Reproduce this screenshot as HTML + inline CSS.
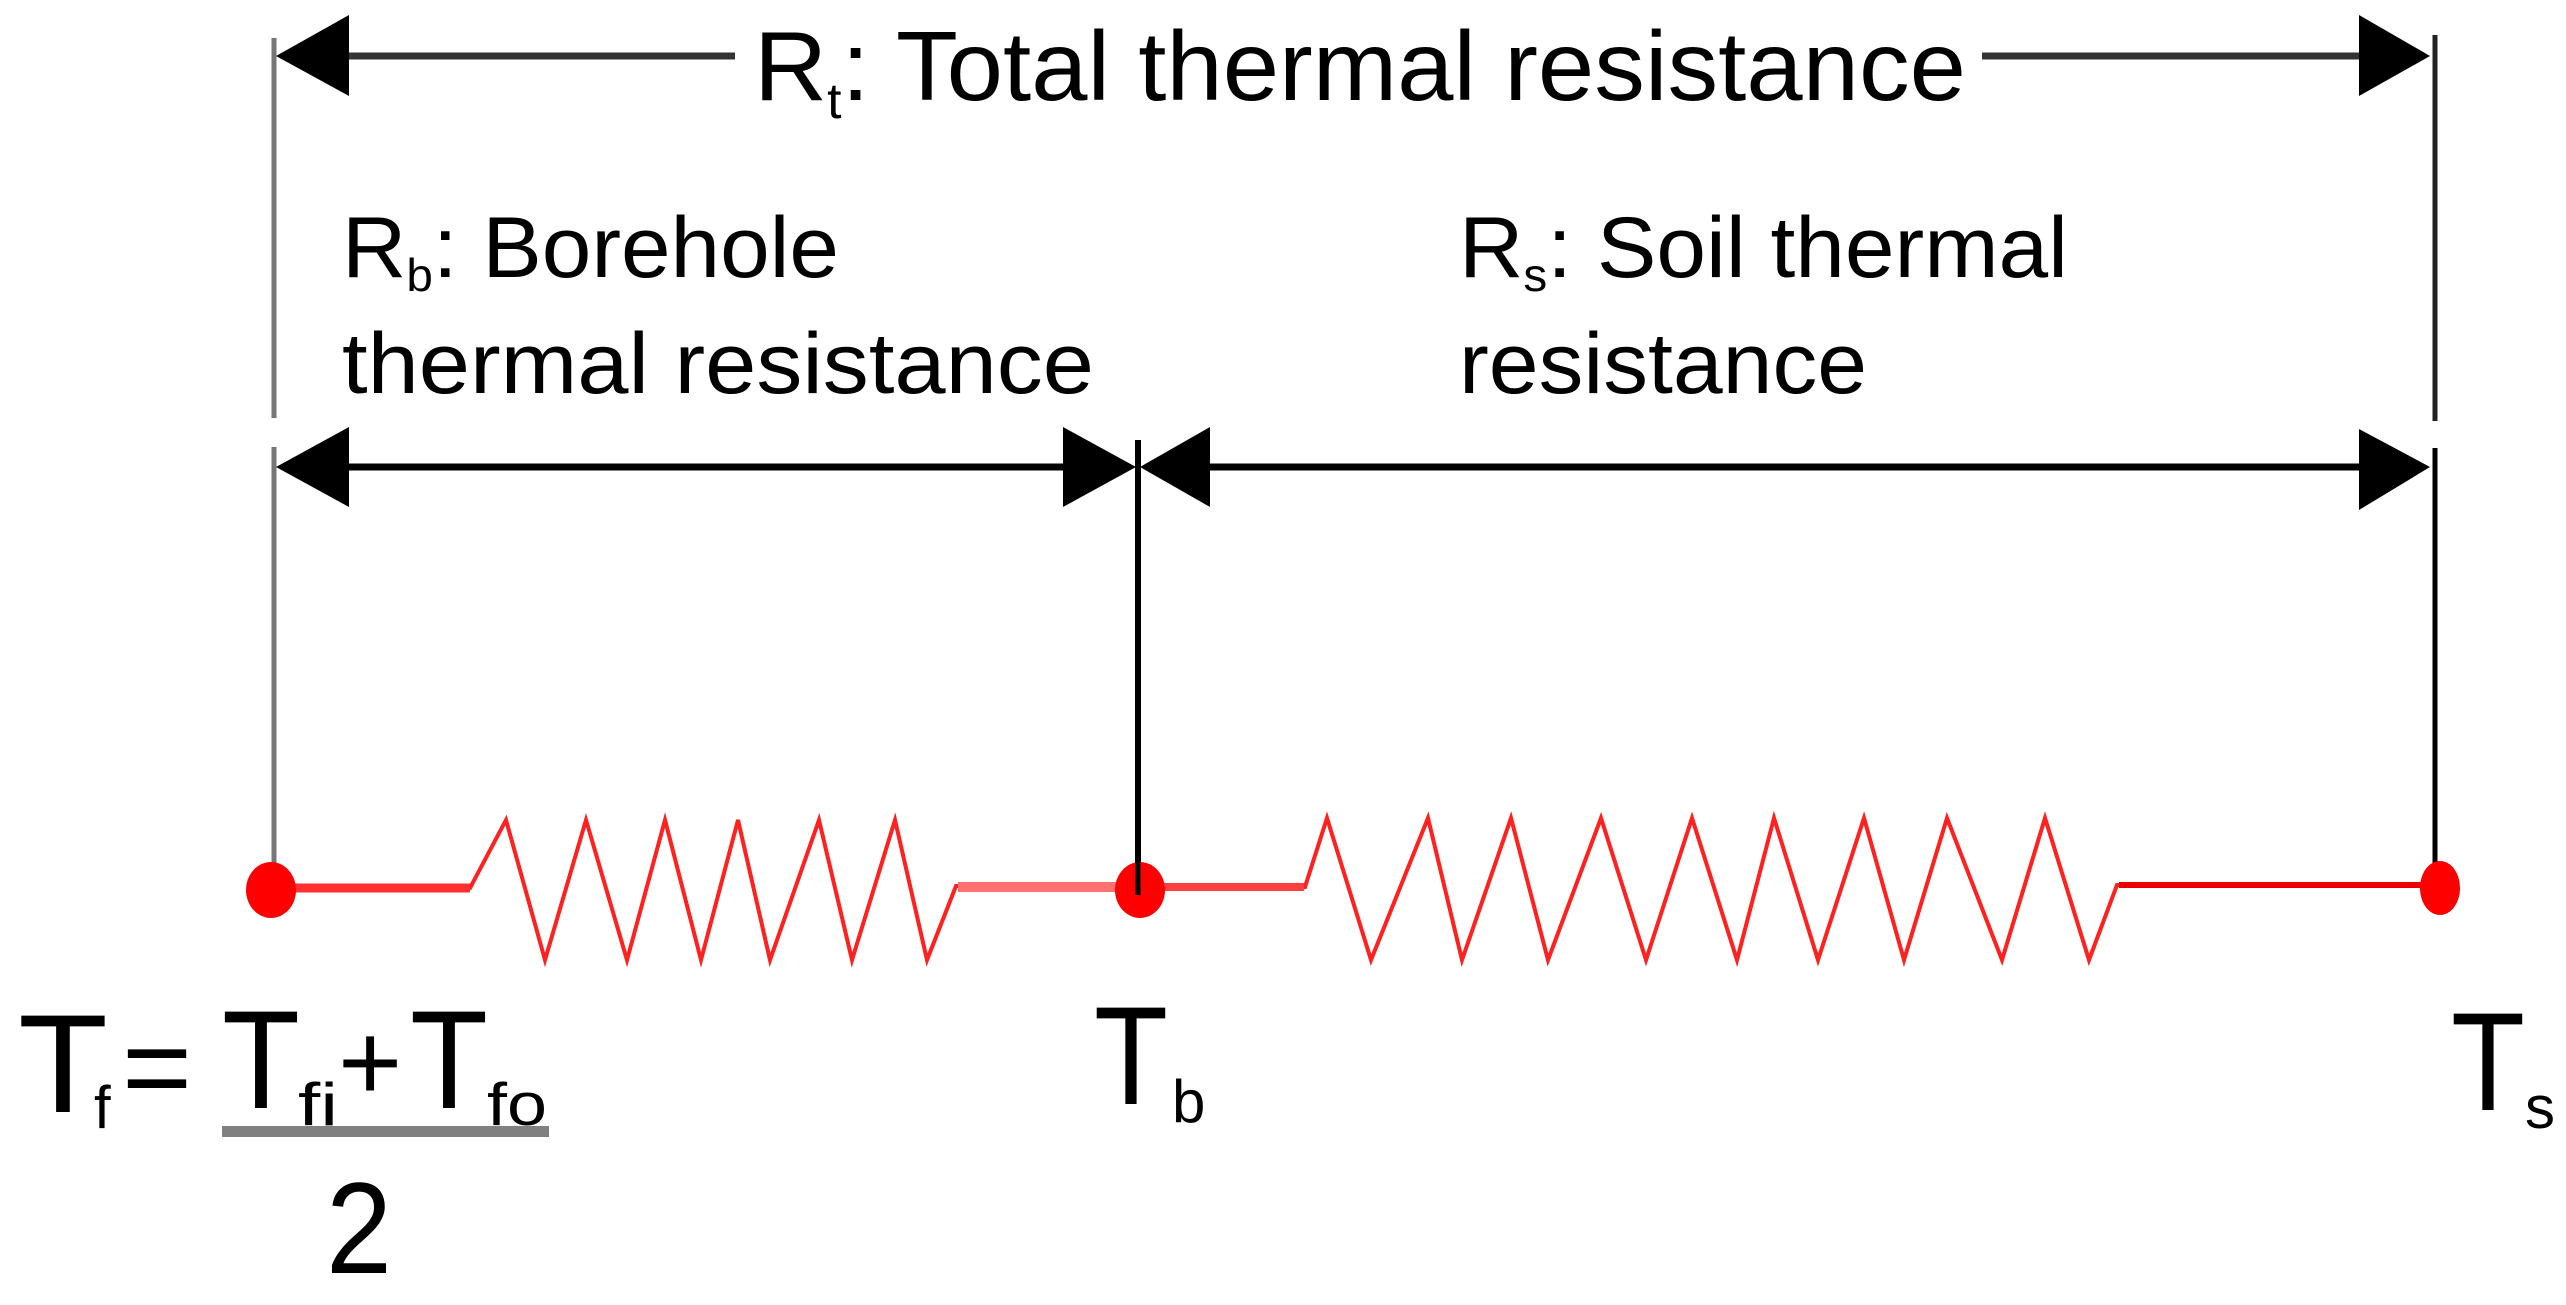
<!DOCTYPE html>
<html><head><meta charset="utf-8"><style>
html,body{margin:0;padding:0;background:#fff;}
svg{display:block;}
text{font-family:"Liberation Sans Narrow","Liberation Sans",sans-serif;fill:#000;}
</style></head><body>
<svg width="2566" height="1305" viewBox="0 0 2566 1305" xmlns="http://www.w3.org/2000/svg">
<!-- vertical lines -->
<line x1="274" y1="38" x2="274" y2="418" stroke="#777" stroke-width="5"/>
<line x1="274" y1="447" x2="274" y2="890" stroke="#777" stroke-width="5"/>
<line x1="2435" y1="35" x2="2435" y2="421" stroke="#222" stroke-width="5"/>
<line x1="2435" y1="448" x2="2435" y2="890" stroke="#000" stroke-width="5"/>
<line x1="1138" y1="440" x2="1138" y2="890" stroke="#000" stroke-width="6"/>
<!-- top arrow -->
<line x1="340" y1="56" x2="735" y2="56" stroke="#333" stroke-width="7"/>
<line x1="1982" y1="56" x2="2370" y2="56" stroke="#333" stroke-width="7"/>
<polygon points="276,56 349,15 349,96" fill="#000"/>
<polygon points="2430,56 2359,15 2359,96" fill="#000"/>
<text x="754" y="100" font-size="98" textLength="1212" lengthAdjust="spacingAndGlyphs">R<tspan font-size="50" dy="18">t</tspan><tspan dy="-18">: Total thermal resistance</tspan></text>
<!-- middle arrows -->
<line x1="340" y1="467" x2="1070" y2="467" stroke="#000" stroke-width="7"/>
<line x1="1200" y1="467" x2="2370" y2="467" stroke="#000" stroke-width="7"/>
<polygon points="276,467 349,427 349,507" fill="#000"/>
<polygon points="1136,467 1063,427 1063,507" fill="#000"/>
<polygon points="1140,467 1210,427 1210,507" fill="#000"/>
<polygon points="2430,467 2359,429 2359,510" fill="#000"/>
<!-- labels -->
<text x="342" y="277" font-size="86" textLength="497" lengthAdjust="spacingAndGlyphs">R<tspan font-size="46" dy="14">b</tspan><tspan dy="-14">: Borehole</tspan></text>
<text x="342" y="393" font-size="86" textLength="752" lengthAdjust="spacingAndGlyphs">thermal resistance</text>
<text x="1459" y="277" font-size="86" textLength="609" lengthAdjust="spacingAndGlyphs">R<tspan font-size="46" dy="14">s</tspan><tspan dy="-14">: Soil thermal</tspan></text>
<text x="1459" y="393" font-size="86" textLength="408" lengthAdjust="spacingAndGlyphs">resistance</text>
<!-- circuit -->
<g fill="none" stroke="#ff2020" stroke-width="4" stroke-linejoin="miter">
<polyline points="271,888 470,888 506,820 545,960 586,820 627,960 665,820 701,960 738,820 770,960 819,820 852,960 895,820 927,960 956,886 1143,886"/>
<polyline points="1143,887 1305,887 1327,818 1371,960 1428,818 1462,960 1511,818 1548,960 1601,818 1646,960 1692,818 1737,960 1774,818 1818,960 1864,818 1904,960 1947,818 2002,960 2045,818 2089,960 2117,885 2446,885"/>
</g>
<line x1="290" y1="888" x2="470" y2="888" stroke="#ff3030" stroke-width="9"/>
<line x1="958" y1="887" x2="1120" y2="887" stroke="#ff7070" stroke-width="10"/>
<line x1="1160" y1="887" x2="1304" y2="887" stroke="#ff4040" stroke-width="8"/>
<line x1="2119" y1="885" x2="2430" y2="885" stroke="#ee0000" stroke-width="6"/>
<ellipse cx="271" cy="890" rx="25" ry="28" fill="#ff0000"/>
<ellipse cx="1140" cy="890" rx="25" ry="28" fill="#ff0000"/>
<ellipse cx="2440" cy="888" rx="20" ry="27" fill="#ff0000"/>
<line x1="1138" y1="860" x2="1138" y2="895" stroke="#000" stroke-width="5"/>
<!-- bottom labels -->
<text x="18" y="1112" font-size="140" textLength="90" lengthAdjust="spacingAndGlyphs">T</text>
<text x="94" y="1128" font-size="60">f</text>
<text x="122" y="1108" font-size="120">=</text>
<text x="222" y="1108" font-size="140" textLength="78" lengthAdjust="spacingAndGlyphs">T</text>
<text x="298" y="1125" font-size="60" textLength="40" lengthAdjust="spacingAndGlyphs">fi</text>
<text x="338" y="1100" font-size="110">+</text>
<text x="410" y="1108" font-size="140" textLength="78" lengthAdjust="spacingAndGlyphs">T</text>
<text x="487" y="1125" font-size="60" textLength="60" lengthAdjust="spacingAndGlyphs">fo</text>
<rect x="222" y="1126" width="327" height="11" fill="#808080"/>
<text x="326" y="1273" font-size="130" textLength="66" lengthAdjust="spacingAndGlyphs">2</text>
<text x="1094" y="1104" font-size="140" textLength="74" lengthAdjust="spacingAndGlyphs">T</text>
<text x="1172" y="1122" font-size="60">b</text>
<text x="2451" y="1110" font-size="140" textLength="74" lengthAdjust="spacingAndGlyphs">T</text>
<text x="2525" y="1128" font-size="60">s</text>
</svg>
</body></html>
